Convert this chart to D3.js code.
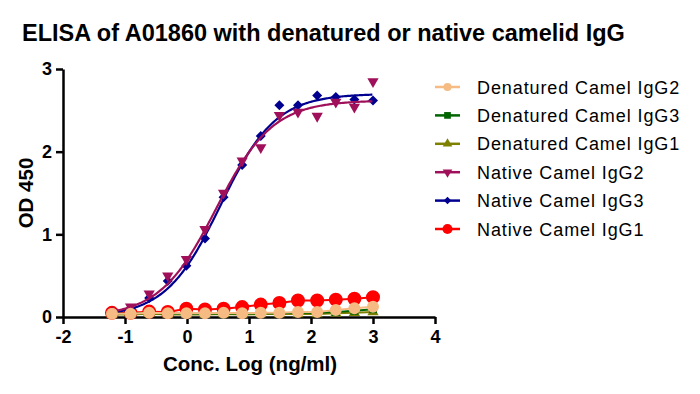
<!DOCTYPE html>
<html>
<head>
<meta charset="utf-8">
<script src="https://cdn.jsdelivr.net/npm/d3@7/dist/d3.min.js"></script>
<style>
body{margin:0;background:#fff;}
svg text{font-family:Arial,"Liberation Sans",sans-serif;fill:#000;}
</style>
</head>
<body>
<svg id="chart" width="700" height="394"></svg>
<script>
// log concentration (ng/ml), 2-fold dilution series
var logConc=[-1.21,-0.91,-0.61,-0.31,-0.01,0.29,0.59,0.89,1.19,1.49,1.79,2.10,2.40,2.70,3.00];

var denatIgG2=[0.04,0.04,0.05,0.045,0.045,0.045,0.05,0.045,0.05,0.05,0.06,0.06,0.085,0.105,0.125];
var denatIgG3=[0.04,0.04,0.05,0.04,0.04,0.04,0.045,0.04,0.045,0.045,0.05,0.05,0.06,0.075,0.095];
var denatIgG1=[0.03,0.03,0.04,0.03,0.03,0.03,0.035,0.03,0.035,0.035,0.035,0.035,0.045,0.05,0.06];
var nativeIgG2=[0.06,0.125,0.28,0.50,0.70,1.06,1.50,1.89,2.05,2.44,2.48,2.43,2.60,2.54,2.85];
var nativeIgG3=[0.06,0.10,0.23,0.435,0.62,0.95,1.45,1.84,2.19,2.56,2.56,2.68,2.66,2.63,2.62];
var nativeIgG1=[0.05,0.05,0.065,0.06,0.10,0.09,0.10,0.12,0.15,0.17,0.20,0.20,0.21,0.22,0.24];

// 4PL fit parameters
var fitIgG2={bottom:0,top:2.62,logEC50:0.47,hill:0.95};
var fitIgG3={bottom:0,top:2.70,logEC50:0.54,hill:0.98};

var xTicks=[-2,-1,0,1,2,3,4],
 yTicks=[0,1,2,3];

var series=[
 {name:"Denatured Camel IgG2",values:denatIgG2,color:"#F5BB82",symbol:"circle",size:113,lsize:50,connect:true},
 {name:"Denatured Camel IgG3",values:denatIgG3,color:"#006400",symbol:"square",size:64,lsize:45,connect:true},
 {name:"Denatured Camel IgG1",values:denatIgG1,color:"#808000",symbol:"triUp",size:55,lsize:40,connect:true},
 {name:"Native Camel IgG2",values:nativeIgG2,color:"#A0105A",symbol:"triDown",size:55,lsize:40,fit:fitIgG2},
 {name:"Native Camel IgG3",values:nativeIgG3,color:"#000090",symbol:"diamond",size:50,lsize:28,fit:fitIgG3},
 {name:"Native Camel IgG1",values:nativeIgG1,color:"#FF0000",symbol:"circle",size:154,lsize:80,connect:true}
];

var svg=d3.select("#chart"),
 margin={left:63,top:69,right:265,bottom:77};

var x=d3.scaleLinear().domain([-2,4]).range([margin.left,margin.left+372]),
 y=d3.scaleLinear().domain([0,3]).range([317,69]);

function symbolPath(type,size){
  var t=d3.symbolCircle,rot=0;
  if(type=="square") t=d3.symbolSquare;
  if(type=="triUp") t=d3.symbolTriangle;
  if(type=="triDown"){t=d3.symbolTriangle;rot=180;}
  if(type=="diamond"){t=d3.symbolSquare;rot=45;}
  return {d:d3.symbol().type(t).size(size)(),rot:rot};
}

function fourPL(p,xv){
  return p.bottom+(p.top-p.bottom)/(1+Math.pow(10,(p.logEC50-xv)*p.hill));
}

// title
svg.append("text")
  .attr("x",22).attr("y",41)
  .style("font-size","23.5px").style("font-weight","bold")
  .text("ELISA of A01860 with denatured or native camelid IgG");

// axes
var xAxis=svg.append("g")
  .attr("transform","translate(0,317)")
  .call(d3.axisBottom(x).tickValues(xTicks).tickSize(7).tickSizeOuter(0).tickPadding(6));
var yAxis=svg.append("g")
  .attr("transform","translate("+margin.left+",0)")
  .call(d3.axisLeft(y).tickValues(yTicks).tickFormat(d3.format("d")).tickSize(7).tickSizeOuter(0).tickPadding(4));
[xAxis,yAxis].forEach(function(a){
  a.select(".domain").attr("stroke","#000").attr("stroke-width",2.5);
  a.selectAll(".tick line").attr("stroke","#000").attr("stroke-width",2.5);
  a.selectAll(".tick text")
    .style("font-size","18px").style("font-weight","bold")
    .style("font-family","Arial,'Liberation Sans',sans-serif").attr("fill","#000");
});
xAxis.selectAll(".tick text").text(function(d){return d<0?"-"+Math.abs(d):d;});

svg.append("text")
  .attr("x",250).attr("y",371).attr("text-anchor","middle")
  .style("font-size","20.5px").style("font-weight","bold")
  .text("Conc. Log (ng/ml)");
svg.append("text")
  .attr("transform","translate(33,193) rotate(-90)")
  .attr("text-anchor","middle")
  .style("font-size","20.5px").style("font-weight","bold")
  .text("OD 450");

// data, last legend entry drawn first
var plot=svg.append("g");
var line=d3.line().x(function(d){return x(d[0]);}).y(function(d){return y(d[1]);});
series.slice().reverse().forEach(function(s){
  var pts=logConc.map(function(c,i){return [c,s.values[i]];});
  if(s.connect){
    plot.append("path").attr("d",line(pts))
      .attr("fill","none").attr("stroke",s.color).attr("stroke-width",2);
  }
  if(s.fit){
    var cx=d3.range(logConc[0],logConc[logConc.length-1]+0.001,0.02);
    plot.append("path").attr("d",line(cx.map(function(c){return [c,fourPL(s.fit,c)];})))
      .attr("fill","none").attr("stroke",s.color).attr("stroke-width",2.2);
  }
  var sp=symbolPath(s.symbol,s.size);
  plot.selectAll(null).data(pts).enter().append("path")
    .attr("d",sp.d)
    .attr("transform",function(d){return "translate("+x(d[0])+","+y(d[1])+") rotate("+sp.rot+")";})
    .attr("fill",s.color);
});

// legend
var legend=svg.append("g").attr("transform","translate(435,87)");
series.forEach(function(s,i){
  var row=legend.append("g").attr("transform","translate(0,"+(i*28.4)+")");
  row.append("line").attr("x1",0).attr("x2",25).attr("y1",0).attr("y2",0)
    .attr("stroke",s.color).attr("stroke-width",2.5);
  var sp=symbolPath(s.symbol,s.lsize);
  row.append("path").attr("d",sp.d)
    .attr("transform","translate(12.5,0) rotate("+sp.rot+")")
    .attr("fill",s.color);
  row.append("text").attr("x",42).attr("y",6.5)
    .style("font-size","18px").style("letter-spacing","0.9px")
    .text(s.name);
});
</script>
</body>
</html>
